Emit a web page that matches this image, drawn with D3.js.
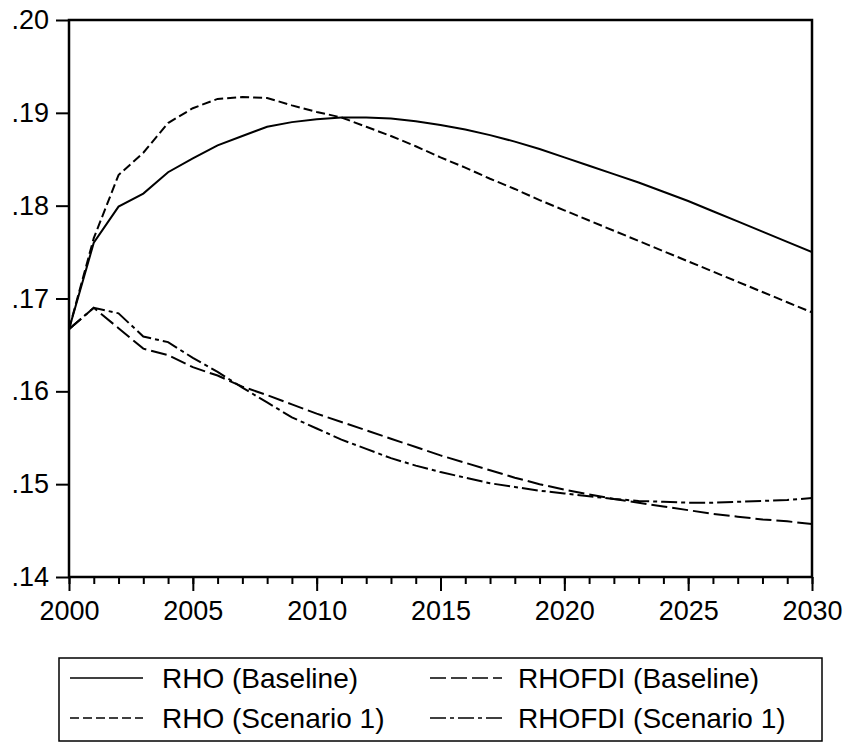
<!DOCTYPE html>
<html>
<head>
<meta charset="utf-8">
<script src="https://cdn.jsdelivr.net/npm/d3@7"></script>
<style>
  html, body { margin: 0; padding: 0; background: #fff; }
  svg { display: block; }
  text { font-family: "Liberation Sans", Arial, sans-serif; fill: #000; }
</style>
</head>
<body>
<svg id="chart" width="848" height="742"></svg>
<script>
// ---- data ----
const years = d3.range(2000, 2031);
const rhoBaseline = [
  0.1667, 0.1760, 0.1799, 0.1813, 0.1836, 0.1851, 0.1865, 0.1875, 0.1885, 0.1890,
  0.1893, 0.1895, 0.1895, 0.1894, 0.1891, 0.1887, 0.1882, 0.1876, 0.1869, 0.1861,
  0.1852, 0.1843, 0.1834, 0.1825, 0.1815, 0.1805, 0.1794, 0.1783, 0.1772, 0.1761,
  0.1750
];
const rhoScenario1 = [
  0.1667, 0.1765, 0.1833, 0.1857, 0.1889, 0.1905, 0.1915, 0.1917, 0.1916, 0.1908,
  0.1901, 0.1895, 0.1885, 0.1875, 0.1864, 0.1852, 0.1841, 0.1829, 0.1818, 0.1806,
  0.1795, 0.1784, 0.1773, 0.1762, 0.1751, 0.1740, 0.1729, 0.1718, 0.1707, 0.1696,
  0.1685
];
const rhofdiBaseline = [
  0.1667, 0.1690, 0.1668, 0.1646, 0.1639, 0.1626, 0.1617, 0.1605, 0.1596, 0.1586,
  0.1576, 0.1567, 0.1558, 0.1549, 0.1540, 0.1531, 0.1523, 0.1515, 0.1507, 0.1500,
  0.1494, 0.1489, 0.1484, 0.1480, 0.1476, 0.1472, 0.1468, 0.1465, 0.1462, 0.1460,
  0.1457
];
const rhofdiScenario1 = [
  0.1667, 0.1690, 0.1684, 0.1659, 0.1653, 0.1636, 0.1621, 0.1604, 0.1588, 0.1572,
  0.1560, 0.1548, 0.1538, 0.1528, 0.1520, 0.1513, 0.1507, 0.1501, 0.1497, 0.1493,
  0.1490, 0.1487, 0.1484, 0.1482, 0.1481, 0.1480, 0.1480, 0.1481, 0.1482, 0.1483,
  0.1485
];
const yTicks = [0.14, 0.15, 0.16, 0.17, 0.18, 0.19, 0.20];
const xMajorTicks = [2000, 2005, 2010, 2015, 2020, 2025, 2030];
const seriesNames = ["RHO (Baseline)", "RHOFDI (Baseline)", "RHO (Scenario 1)", "RHOFDI (Scenario 1)"];

// ---- layout ----
const L = 69, R = 812, T = 20, B = 577;
const svg = d3.select("#chart");
const x = d3.scaleLinear().domain([2000, 2030]).range([L, R]);
const y = d3.scaleLinear().domain([0.14, 0.20]).range([B, T]);

const series = [
  { name: seriesNames[0], values: rhoBaseline, dash: null },
  { name: seriesNames[1], values: rhofdiBaseline, dash: "16,5" },
  { name: seriesNames[2], values: rhoScenario1, dash: "9,4" },
  { name: seriesNames[3], values: rhofdiScenario1, dash: "16,4,4,4" }
];

// clip
svg.append("defs").append("clipPath").attr("id", "plotclip")
  .append("rect").attr("x", L).attr("y", T).attr("width", R - L).attr("height", B - T);

// lines
const line = d3.line().x((d, i) => x(years[i])).y(d => y(d));
svg.append("g").attr("clip-path", "url(#plotclip)")
  .selectAll("path").data(series).join("path")
  .attr("d", d => line(d.values))
  .attr("fill", "none")
  .attr("stroke", "#000")
  .attr("stroke-width", 2)
  .attr("stroke-dasharray", d => d.dash);

// y axis
const fmt = v => d3.format(".2f")(v).replace(/^0/, "");
const yAxis = svg.append("g").attr("transform", `translate(${L},0)`)
  .call(d3.axisLeft(y).tickValues(yTicks).tickSize(13).tickPadding(7).tickFormat(fmt));
yAxis.select(".domain").remove();
yAxis.selectAll("line").attr("stroke", "#000").attr("stroke-width", 2);
yAxis.selectAll("text").attr("font-size", 27).attr("font-family", "Liberation Sans, Arial, sans-serif");

// x axis minor
const xMinor = svg.append("g").attr("transform", `translate(0,${B})`)
  .call(d3.axisBottom(x).tickValues(years).tickSize(7).tickFormat(""));
xMinor.select(".domain").remove();
xMinor.selectAll("line").attr("stroke", "#000").attr("stroke-width", 2);

// x axis major
const xMajor = svg.append("g").attr("transform", `translate(0,${B})`)
  .call(d3.axisBottom(x).tickValues(xMajorTicks).tickSize(14).tickPadding(10).tickFormat(d3.format("d")));
xMajor.select(".domain").remove();
xMajor.selectAll("line").attr("stroke", "#000").attr("stroke-width", 2);
xMajor.selectAll("text").attr("font-size", 27).attr("font-family", "Liberation Sans, Arial, sans-serif");

// frame
svg.append("rect").attr("x", L).attr("y", T).attr("width", R - L).attr("height", B - T)
  .attr("fill", "none").attr("stroke", "#000").attr("stroke-width", 2.5);

// legend
const lg = svg.append("g");
lg.append("rect").attr("x", 59).attr("y", 658).attr("width", 822 - 59).attr("height", 83)
  .attr("fill", "none").attr("stroke", "#000").attr("stroke-width", 1.5);
const cols = [{ x1: 70, x2: 143, tx: 162 }, { x1: 430, x2: 502, tx: 518 }];
const rows = [688, 728];
series.forEach((s, i) => {
  const c = cols[i % 2], r = rows[Math.floor(i / 2)];
  lg.append("line").attr("x1", c.x1).attr("x2", c.x2).attr("y1", r - 10).attr("y2", r - 10)
    .attr("stroke", "#000").attr("stroke-width", 1.5).attr("stroke-dasharray", s.dash);
  lg.append("text").attr("x", c.tx).attr("y", r).attr("font-size", 28).text(s.name);
});
</script>
</body>
</html>
